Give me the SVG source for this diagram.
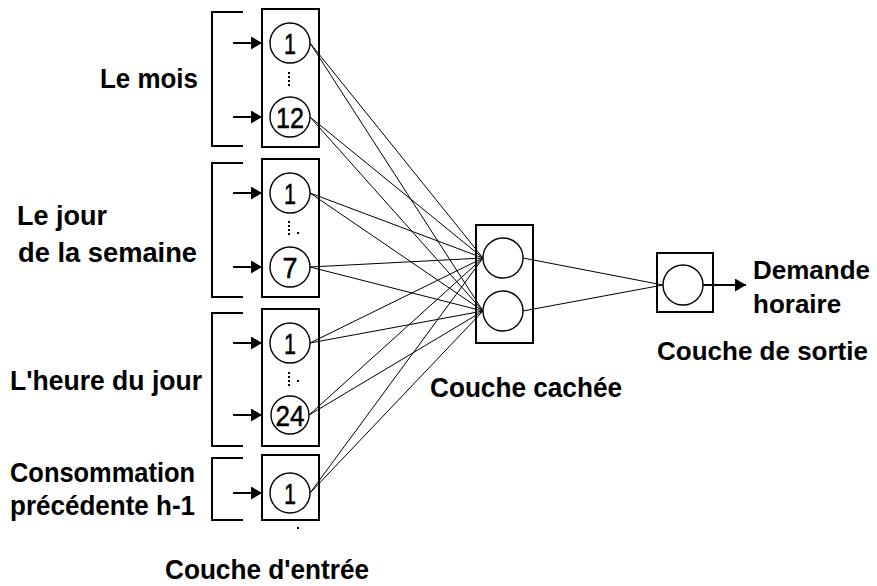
<svg xmlns="http://www.w3.org/2000/svg" width="877" height="586" viewBox="0 0 877 586">
<style>
.box{fill:none;stroke:#000;stroke-width:2}
.br{fill:none;stroke:#000;stroke-width:2}
.nd{fill:#fff;stroke:#000;stroke-width:1.4}
.ar{stroke:#000;stroke-width:2;marker-end:url(#ah)}
.cn{stroke:#000;stroke-width:1;fill:none}
.dots{stroke:#000;stroke-width:2;stroke-dasharray:2 2}
.num{font-family:"Liberation Sans",Arial,sans-serif;font-size:30px;text-anchor:middle;fill:#000;stroke:#000;stroke-width:0.5}
.lb{font-family:"Liberation Sans",Arial,sans-serif;font-size:28px;font-weight:bold;fill:#000}
.lr{font-family:"Liberation Sans",Arial,sans-serif;font-size:26px;font-weight:bold;fill:#000}
</style>
<defs>
<marker id="ah" markerUnits="userSpaceOnUse" markerWidth="11" markerHeight="13" refX="11" refY="6.5" orient="auto">
<path d="M0,0 L11,6.5 L0,13 z" fill="#000"/>
</marker>
</defs>
<rect width="877" height="586" fill="#fff"/>
<g id="connectors">
<line class="cn" x1="310" y1="43" x2="483" y2="258"/>
<line class="cn" x1="310" y1="43" x2="483" y2="311"/>
<line class="cn" x1="310" y1="117" x2="483" y2="258"/>
<line class="cn" x1="310" y1="117" x2="483" y2="311"/>
<line class="cn" x1="310" y1="193" x2="483" y2="258"/>
<line class="cn" x1="310" y1="193" x2="483" y2="311"/>
<line class="cn" x1="310" y1="267" x2="483" y2="258"/>
<line class="cn" x1="310" y1="267" x2="483" y2="311"/>
<line class="cn" x1="310" y1="343" x2="483" y2="258"/>
<line class="cn" x1="310" y1="343" x2="483" y2="311"/>
<line class="cn" x1="309" y1="415" x2="483" y2="258"/>
<line class="cn" x1="309" y1="415" x2="483" y2="311"/>
<line class="cn" x1="310" y1="493" x2="483" y2="258"/>
<line class="cn" x1="310" y1="493" x2="483" y2="311"/>
<line class="cn" x1="523" y1="258" x2="663" y2="285"/>
<line class="cn" x1="523" y1="311" x2="663" y2="285"/>
<line class="ar" x1="233" y1="43" x2="262" y2="43"/>
<line class="ar" x1="233" y1="117" x2="262" y2="117"/>
<line class="ar" x1="233" y1="193" x2="262" y2="193"/>
<line class="ar" x1="233" y1="267" x2="262" y2="267"/>
<line class="ar" x1="233" y1="343" x2="262" y2="343"/>
<line class="ar" x1="233" y1="415" x2="262" y2="415"/>
<line class="ar" x1="233" y1="493" x2="262" y2="493"/>
<line class="ar" x1="703" y1="285" x2="746" y2="285"/>
</g>
<g id="input-mois">
<path class="br" d="M243,12 H212 V146 H243"/>
<rect class="box" x="262" y="9" width="57" height="138"/>
<circle class="nd" cx="290" cy="43" r="20"/>
<text class="num" x="290" y="54" textLength="12" lengthAdjust="spacingAndGlyphs">1</text>
<line class="dots" x1="289" y1="72" x2="289" y2="88"/>
<circle class="nd" cx="290" cy="117" r="20"/>
<text class="num" x="290" y="128" textLength="28" lengthAdjust="spacingAndGlyphs">12</text>
<text class="lb" x="100" y="88" textLength="98" lengthAdjust="spacingAndGlyphs">Le mois</text>
</g>
<g id="input-jour">
<path class="br" d="M243,163 H212 V297 H243"/>
<rect class="box" x="262" y="159" width="57" height="138"/>
<circle class="nd" cx="290" cy="193" r="20"/>
<text class="num" x="290" y="204" textLength="12" lengthAdjust="spacingAndGlyphs">1</text>
<line class="dots" x1="289" y1="221" x2="289" y2="237"/>
<rect x="297" y="232" width="2" height="2" fill="#000"/>
<circle class="nd" cx="290" cy="267" r="20"/>
<text class="num" x="290" y="278" textLength="15" lengthAdjust="spacingAndGlyphs">7</text>
<text class="lb" x="17" y="225" textLength="90" lengthAdjust="spacingAndGlyphs">Le jour</text>
<text class="lb" x="18" y="262" textLength="179" lengthAdjust="spacingAndGlyphs">de la semaine</text>
</g>
<g id="input-heure">
<path class="br" d="M243,313 H212 V446 H243"/>
<rect class="box" x="262" y="309" width="57" height="137"/>
<circle class="nd" cx="290" cy="343" r="20"/>
<text class="num" x="290" y="354" textLength="12" lengthAdjust="spacingAndGlyphs">1</text>
<line class="dots" x1="289" y1="372" x2="289" y2="388"/>
<rect x="297" y="380" width="2" height="2" fill="#000"/>
<circle class="nd" cx="290" cy="415" r="19"/>
<text class="num" x="290" y="426" textLength="29" lengthAdjust="spacingAndGlyphs">24</text>
<text class="lb" x="10" y="390" textLength="192" lengthAdjust="spacingAndGlyphs">L'heure du jour</text>
</g>
<g id="input-conso">
<path class="br" d="M243,458 H212 V520 H243"/>
<rect class="box" x="262" y="455" width="57" height="65"/>
<circle class="nd" cx="290" cy="493" r="20"/>
<text class="num" x="290" y="504" textLength="12" lengthAdjust="spacingAndGlyphs">1</text>
<rect x="297" y="527" width="2" height="2" fill="#000"/>
<text class="lb" x="10" y="482" textLength="185" lengthAdjust="spacingAndGlyphs">Consommation</text>
<text class="lb" x="10" y="515" textLength="185" lengthAdjust="spacingAndGlyphs">précédente h-1</text>
</g>
<g id="label-entree">
<text class="lb" x="165" y="579" textLength="204" lengthAdjust="spacingAndGlyphs">Couche d'entrée</text>
</g>
<g id="hidden-layer">
<rect class="box" x="476" y="225" width="57" height="118"/>
<circle class="nd" cx="503" cy="258" r="20"/>
<circle class="nd" cx="503" cy="311" r="20"/>
<text class="lb" x="430" y="397" textLength="192" lengthAdjust="spacingAndGlyphs">Couche cachée</text>
</g>
<g id="output-layer">
<rect class="box" x="657" y="253" width="56" height="59"/>
<circle class="nd" cx="683" cy="285" r="20"/>
<text class="lr" x="753" y="279">Demande</text>
<text class="lr" x="753" y="313">horaire</text>
<text class="lr" x="657" y="360">Couche de sortie</text>
</g>
</svg>
